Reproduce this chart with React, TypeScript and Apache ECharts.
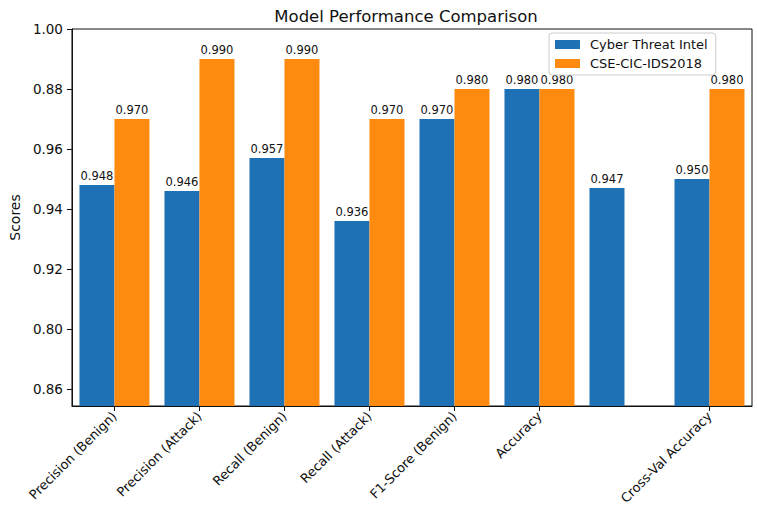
import React, { useEffect, useRef } from 'react';
import * as echarts from 'echarts';

// Metric categories (the seventh slot carries an extra unlabelled bar)
const categories = [
  'Precision (Benign)',
  'Precision (Attack)',
  'Recall (Benign)',
  'Recall (Attack)',
  'F1-Score (Benign)',
  'Accuracy',
  '',
  'Cross-Val Accuracy',
];

const cyberThreatIntel = [0.948, 0.946, 0.957, 0.936, 0.97, 0.98, 0.947, 0.95];
const cseCicIds2018 = [0.97, 0.99, 0.99, 0.97, 0.98, 0.98, null, 0.98];

// y-axis tick positions and the text printed at each of them
const yTickValues = [0.88, 0.9, 0.92, 0.94, 0.96, 0.98, 1.0];
const yTickLabels = ['0.86', '0.80', '0.92', '0.94', '0.96', '0.88', '1.00'];

const FONT = 'DejaVu Sans';
const BLUE = '#1f71b5';
const ORANGE = '#ff8a10';

export default function App() {
  const ref = useRef<HTMLDivElement>(null);

  useEffect(() => {
    if (!ref.current) return;
    const chart = echarts.init(ref.current, null, { renderer: 'svg' });

    const tickText = (v: number) => {
      const i = yTickValues.findIndex((t) => Math.abs(t - v) < 1e-6);
      return i >= 0 ? yTickLabels[i] : '';
    };

    const barLabel = {
      show: true,
      position: 'top' as const,
      distance: 3,
      fontFamily: FONT,
      fontSize: 11.5,
      color: '#111',
      formatter: (p: any) => Number(p.value).toFixed(3),
    };

    chart.setOption({
      animation: false,
      backgroundColor: '#fff',
      textStyle: { fontFamily: FONT },
      title: {
        text: 'Model Performance Comparison',
        left: 401,
        top: 3,
        textAlign: 'center',
        textStyle: { fontFamily: FONT, fontSize: 16.5, fontWeight: 'normal', color: '#111' },
      },
      legend: {
        orient: 'vertical',
        left: 549,
        top: 33,
        padding: [5, 8, 5, 6],
        itemWidth: 25,
        itemHeight: 9,
        itemGap: 6,
        borderColor: '#cccccc',
        borderWidth: 1,
        borderRadius: 3,
        backgroundColor: 'rgba(255,255,255,0.85)',
        icon: 'rect',
        textStyle: { fontFamily: FONT, fontSize: 13, color: '#111', padding: [0, 0, 0, 5] },
        data: ['Cyber Threat Intel', 'CSE-CIC-IDS2018'],
      },
      grid: {
        left: 67,
        right: 5,
        top: 29,
        bottom: 102,
        show: true,
        borderColor: '#111',
        borderWidth: 1,
        backgroundColor: 'transparent',
      },
      xAxis: {
        type: 'category',
        data: categories,
        axisLine: { show: true, lineStyle: { color: '#111', width: 1 } },
        axisTick: {
          show: true,
          alignWithLabel: true,
          length: 5,
          lineStyle: { color: '#111' },
          interval: (_i: number, v: string) => v !== '',
        },
        axisLabel: {
          rotate: 45,
          interval: 0,
          margin: 8,
          fontFamily: FONT,
          fontSize: 13,
          color: '#111',
        },
        splitLine: { show: false },
      },
      yAxis: {
        type: 'value',
        min: 0.8743,
        max: 1.0,
        name: 'Scores',
        nameLocation: 'middle',
        nameGap: 48,
        nameTextStyle: { fontFamily: FONT, fontSize: 14, color: '#111' },
        axisLine: { show: true, lineStyle: { color: '#111', width: 1 } },
        axisTick: {
          show: true,
          length: 5,
          lineStyle: { color: '#111' },
          customValues: yTickValues,
        },
        axisLabel: {
          margin: 9,
          fontFamily: FONT,
          fontSize: 13.5,
          color: '#111',
          customValues: yTickValues,
          formatter: (v: number) => tickText(v),
        },
        splitLine: { show: false },
      },
      series: [
        {
          name: 'Cyber Threat Intel',
          type: 'bar',
          data: cyberThreatIntel,
          barWidth: 35,
          barGap: '0%',
          itemStyle: { color: BLUE },
          label: barLabel,
        },
        {
          name: 'CSE-CIC-IDS2018',
          type: 'bar',
          data: cseCicIds2018,
          barWidth: 35,
          barGap: '0%',
          itemStyle: { color: ORANGE },
          label: barLabel,
        },
      ],
    });

    return () => chart.dispose();
  }, []);

  return (
    <div
      ref={ref}
      style={{ position: 'absolute', left: 0, top: 0, width: 757, height: 508 }}
    />
  );
}
